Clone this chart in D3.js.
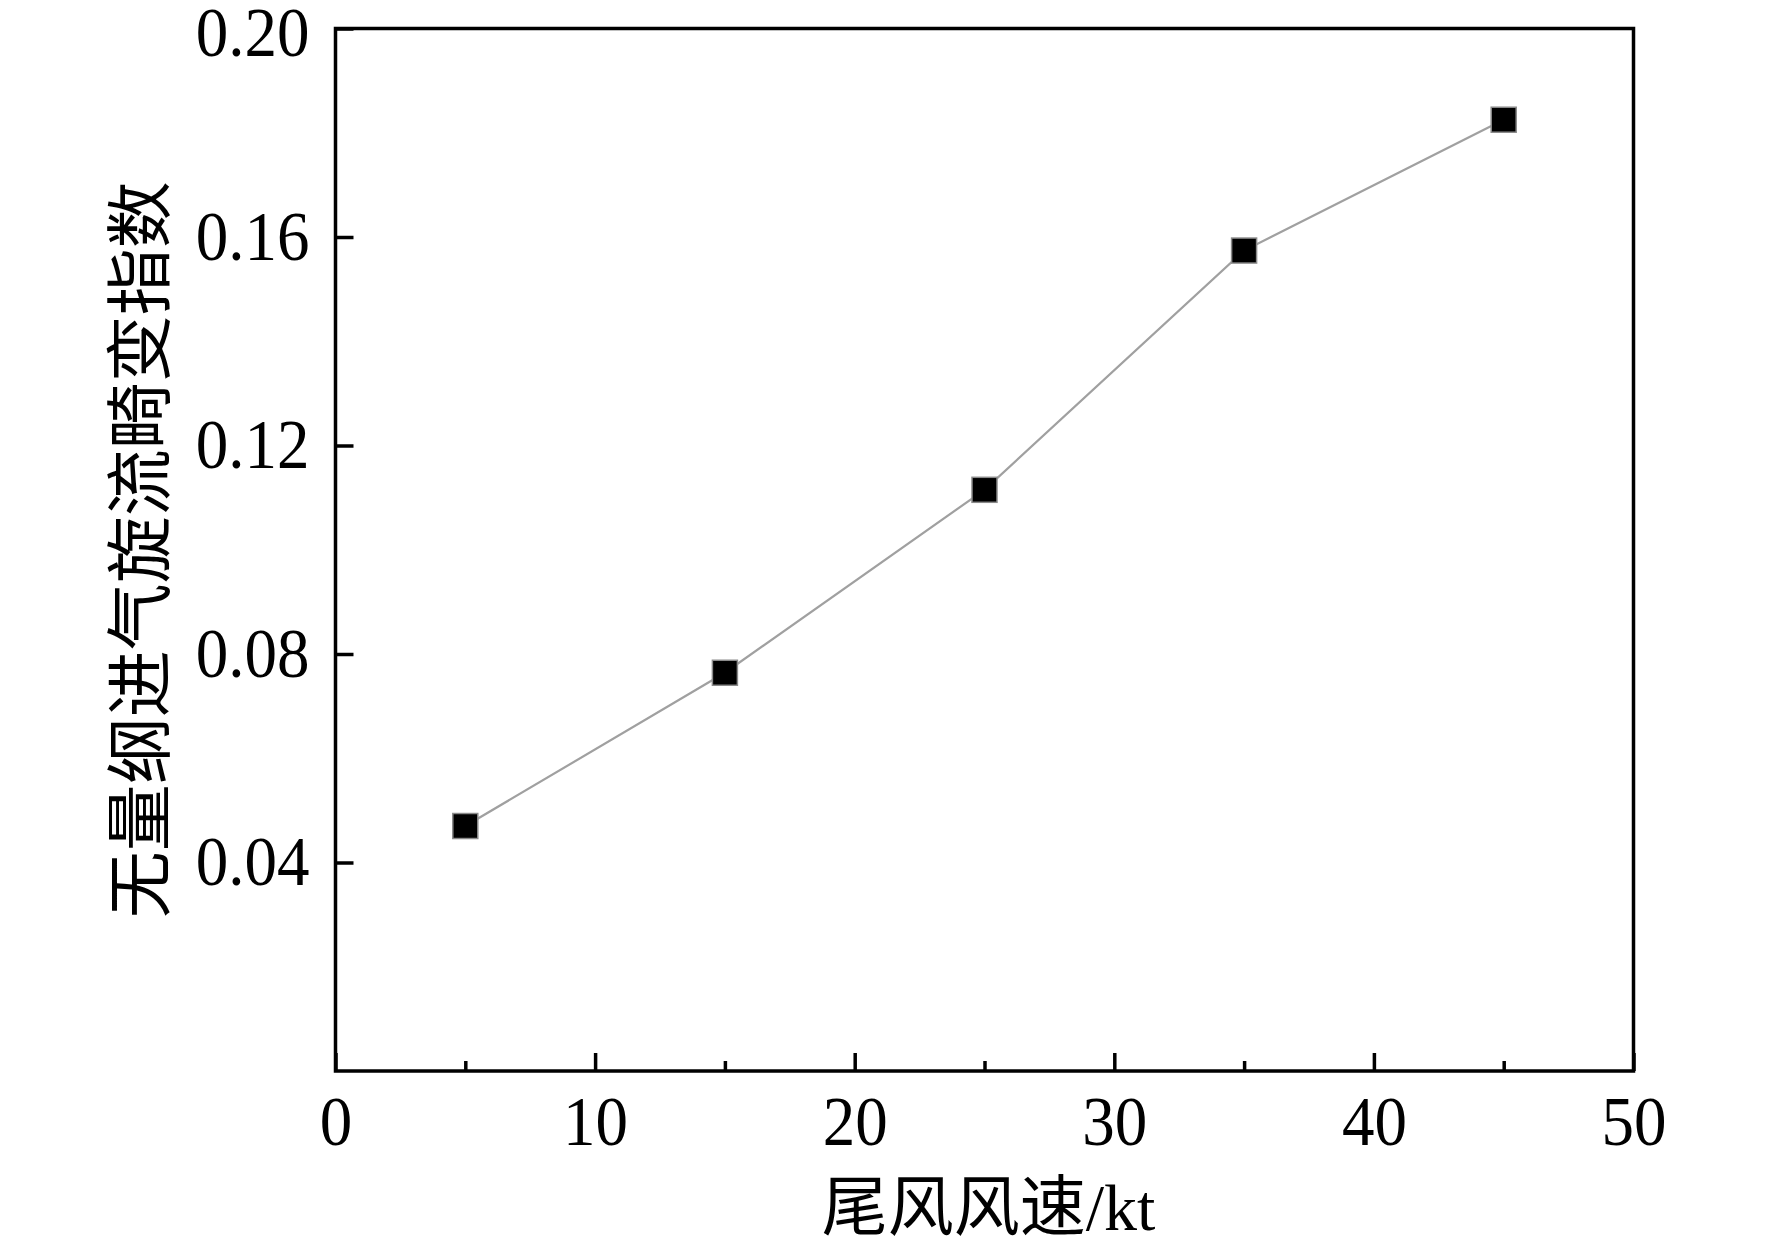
<!DOCTYPE html>
<html>
<head>
<meta charset="utf-8">
<script src="https://cdn.jsdelivr.net/npm/d3@7"></script>
<style>
html,body{margin:0;padding:0;background:#fff;}
svg{display:block;}
text{font-family:"Liberation Serif","Times New Roman","Noto Sans CJK SC",serif;fill:#000;}
</style>
</head>
<body>
<svg id="chart" width="1772" height="1246"></svg>
<script>
// Data
const windSpeed = [5, 15, 25, 35, 45];
const distortion = [0.047, 0.0764, 0.1115, 0.1574, 0.1825];
const xMajorTicks = [0, 10, 20, 30, 40, 50];
const xMinorTicks = [5, 15, 25, 35, 45];
const yTicks = [0.04, 0.08, 0.12, 0.16, 0.20];
const xTitle = "尾风风速/kt";
const yTitle = "无量纲进气旋流畸变指数";

const svg = d3.select("#chart");
const margin = {left: 335.5, top: 28.5, right: 1772 - 1633.5, bottom: 1246 - 1071};
const W = 1772 - margin.left - margin.right;
const H = 1246 - margin.top - margin.bottom;

const x = d3.scaleLinear().domain([0, 50]).range([0, W]);
const y = d3.scaleLinear().domain([0, 0.2]).range([H, 0]);

const g = svg.append("g").attr("transform", `translate(${margin.left},${margin.top})`);

// X axis major
g.append("g").attr("transform", `translate(0,${H})`)
  .call(d3.axisBottom(x).tickValues(xMajorTicks).tickSize(-18).tickPadding(24).tickFormat(d3.format("d")));
// X axis minor
g.append("g").attr("transform", `translate(0,${H})`)
  .call(d3.axisBottom(x).tickValues(xMinorTicks).tickSize(-10).tickFormat(""));
// Y axis
const yAx = g.append("g")
  .call(d3.axisLeft(y).tickValues(yTicks).tickSize(-18).tickPadding(26).tickFormat(d3.format(".2f")));
// top label sits slightly lower in the reference
yAx.selectAll(".tick").filter(d => d === 0.20).select("text").attr("y", 5);

g.selectAll(".domain").remove();
g.selectAll(".tick line").attr("stroke", "#000").attr("stroke-width", 3.5);
g.selectAll(".tick text").attr("font-size", 65)
  .attr("font-family", "Liberation Serif, Times New Roman, serif")
  .attr("transform", "scale(1,1.06)");

// Frame
g.append("rect").attr("x", 0).attr("y", 0).attr("width", W).attr("height", H)
  .attr("fill", "none").attr("stroke", "#000").attr("stroke-width", 3.5);

// Line
const pts = windSpeed.map((v, i) => [v, distortion[i]]);
g.append("path").datum(pts)
  .attr("fill", "none").attr("stroke", "#a0a0a0").attr("stroke-width", 2.2)
  .attr("d", d3.line().x(d => x(d[0])).y(d => y(d[1])));

// Markers
const s = 25;
g.selectAll("rect.m").data(pts).enter().append("rect").attr("class", "m")
  .attr("x", d => x(d[0]) - s / 2).attr("y", d => y(d[1]) - s / 2)
  .attr("width", s).attr("height", s)
  .attr("fill", "#000").attr("stroke", "#8a8a8a").attr("stroke-width", 1.5);

// Axis titles
svg.append("text").attr("x", margin.left + W / 2 + 4).attr("y", 1230)
  .attr("text-anchor", "middle").attr("font-size", 66).text(xTitle);
svg.append("text").attr("transform", `translate(164,${margin.top + H / 2}) rotate(-90)`)
  .attr("text-anchor", "middle").attr("font-size", 67).text(yTitle);
</script>
</body>
</html>
